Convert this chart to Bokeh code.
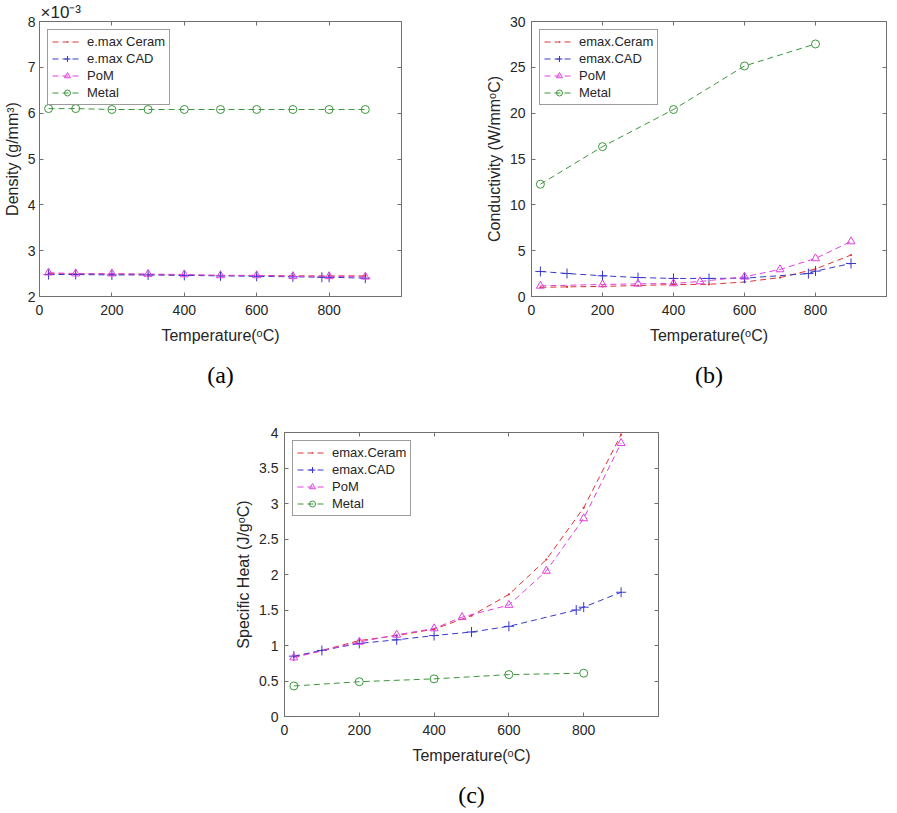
from bokeh.plotting import figure
from bokeh.layouts import column, row
from bokeh.models import (Spacer, LinearAxis, FixedTicker, Title, Range1d,
                          NumeralTickFormatter)
from bokeh.embed import file_html
from bokeh.resources import INLINE

# ---------------- data ----------------
# (a) Density, in units of 1e-3 g/mm^3
a_x_ceram = [25, 100, 200, 300, 400, 500, 600, 700, 800, 900]
a_ceram = [2.50, 2.49, 2.49, 2.48, 2.47, 2.46, 2.46, 2.45, 2.45, 2.45]
a_x_cad = [25, 100, 200, 300, 400, 500, 600, 700, 780, 800, 900]
a_cad = [2.48, 2.48, 2.47, 2.47, 2.46, 2.45, 2.44, 2.43, 2.42, 2.42, 2.40]
a_x_pom = [25, 100, 200, 300, 400, 500, 600, 700, 800, 900]
a_pom = [2.52, 2.50, 2.50, 2.49, 2.48, 2.46, 2.46, 2.44, 2.44, 2.43]
a_x_metal = [25, 100, 200, 300, 400, 500, 600, 700, 800, 900]
a_metal = [6.10, 6.10, 6.08, 6.08, 6.08, 6.08, 6.08, 6.08, 6.08, 6.08]

# (b) Conductivity
b_x_ceram = [25, 100, 200, 300, 400, 500, 600, 700, 800, 900]
b_ceram = [1.0, 1.05, 1.1, 1.2, 1.3, 1.33, 1.58, 2.07, 3.0, 4.52]
b_x_cad = [25, 100, 200, 300, 400, 500, 600, 780, 800, 900]
b_cad = [2.73, 2.51, 2.26, 2.07, 1.97, 1.97, 2.0, 2.5, 2.77, 3.6]
b_x_pom = [25, 200, 300, 400, 475, 600, 700, 800, 900]
b_pom = [1.16, 1.31, 1.38, 1.42, 1.64, 2.15, 2.95, 4.15, 6.0]
b_x_metal = [25, 200, 400, 600, 800]
b_metal = [12.25, 16.35, 20.4, 25.15, 27.55]

# (c) Specific heat
c_x_ceram = [25, 100, 200, 300, 400, 500, 600, 700, 800, 900]
c_ceram = [0.84, 0.93, 1.07, 1.14, 1.23, 1.42, 1.72, 2.21, 2.94, 3.97]
c_x_cad = [25, 100, 200, 300, 400, 500, 600, 780, 800, 900]
c_cad = [0.85, 0.93, 1.03, 1.08, 1.14, 1.19, 1.27, 1.50, 1.54, 1.75]
c_x_pom = [25, 200, 300, 400, 475, 600, 700, 800, 900]
c_pom = [0.83, 1.05, 1.15, 1.24, 1.40, 1.57, 2.05, 2.79, 3.85]
c_x_metal = [25, 200, 400, 600, 800]
c_metal = [0.43, 0.49, 0.53, 0.59, 0.61]

x_ticks = [0, 200, 400, 600, 800]
a_y_ticks = [2, 3, 4, 5, 6, 7, 8]
b_y_ticks = [0, 5, 10, 15, 20, 25, 30]
c_y_ticks = [0, 0.5, 1, 1.5, 2, 2.5, 3, 3.5, 4]

labels_a = ["e.max Ceram", "e.max CAD", "PoM", "Metal"]
labels_bc = ["emax.Ceram", "emax.CAD", "PoM", "Metal"]

# ---------------- styles ----------------
FONT = "Liberation Sans"
SERIF = "Liberation Serif"
TXT = "#262626"
FRAME = "#707070"
COL_CERAM = "#e03434"
COL_CAD = "#3838cc"
COL_POM = "#e040e0"
COL_METAL = "#3c963c"
DASH = "6 4"


def style_axis(ax, ticks, show_labels=True, standoff=8):
    ax.ticker = FixedTicker(ticks=ticks)
    ax.major_tick_in = 4
    ax.major_tick_out = 0
    ax.minor_tick_line_color = None
    ax.axis_line_color = FRAME
    ax.major_tick_line_color = FRAME
    ax.major_label_text_font = FONT
    if show_labels:
        ax.major_label_text_color = TXT
        ax.major_label_text_font_size = "14px"
        ax.major_label_standoff = standoff
    else:
        ax.major_label_text_color = None
        ax.major_label_text_font_size = "0px"
        ax.major_label_standoff = 0


def panel(tag, ylabel, yrange, yticks, series, labels, fw, fh, borders, ystand, yfmt=None):
    bl, br, bt, bb = borders
    p = figure(frame_width=fw, frame_height=fh, x_range=Range1d(0, 1000),
               y_range=Range1d(*yrange), output_backend="svg",
               toolbar_location=None, min_border_left=bl, min_border_right=br,
               min_border_top=bt, min_border_bottom=bb,
               background_fill_color="white", border_fill_color="white")
    p.grid.visible = False
    p.outline_line_color = FRAME
    p.outline_line_width = 1

    style_axis(p.xaxis[0], x_ticks, standoff=8)
    style_axis(p.yaxis[0], yticks, standoff=ystand)
    if yfmt is not None:
        p.yaxis[0].formatter = yfmt
    p.xaxis.axis_label = "Temperature(\u1d52C)"
    p.yaxis.axis_label = ylabel
    for ax in (p.xaxis[0], p.yaxis[0]):
        ax.axis_label_text_font = FONT
        ax.axis_label_text_font_size = "16px"
        ax.axis_label_text_font_style = "normal"
        ax.axis_label_text_color = TXT
    p.xaxis[0].axis_label_standoff = 9
    p.yaxis[0].axis_label_standoff = 4

    top = LinearAxis()
    style_axis(top, x_ticks, show_labels=False)
    p.add_layout(top, "above")
    right = LinearAxis()
    style_axis(right, yticks, show_labels=False)
    p.add_layout(right, "right")

    colors = [COL_CERAM, COL_CAD, COL_POM, COL_METAL]
    markers = ["dot", "cross", "triangle", "circle"]
    sizes = [9, 10, 8, 8]
    for (xs, ys), lab, c, m, s in zip(series, labels, colors, markers, sizes):
        p.line(xs, ys, line_color=c, line_width=1, line_dash=DASH, legend_label=lab)
        p.scatter(xs, ys, marker=m, size=s, line_color=c, fill_color=c if m == "dot" else None,
                  line_width=1, legend_label=lab)

    lg = p.legend[0]
    lg.location = "top_left"
    lg.margin = 8
    lg.padding = 4
    lg.spacing = 2
    lg.label_height = 15
    lg.glyph_height = 15
    lg.glyph_width = 30
    lg.label_standoff = 5
    lg.label_text_font = FONT
    lg.label_text_font_size = "13px"
    lg.label_text_color = TXT
    lg.border_line_color = "#3a3a3a"
    lg.border_line_width = 1
    lg.background_fill_alpha = 1

    t = Title(text=tag, align="center", text_font=SERIF, text_font_size="24px",
              text_font_style="normal", text_color="black", standoff=27)
    p.add_layout(t, "below")
    return p


pa = panel("(a)", "Density (g/mm\u00b3)", (2, 8), a_y_ticks,
           [(a_x_ceram, a_ceram), (a_x_cad, a_cad), (a_x_pom, a_pom), (a_x_metal, a_metal)],
           labels_a, 362, 275, (32, 44, 20, 100), 4)
pa.add_layout(Title(text="\u00d710\u207b\u00b3", align="left", text_font=FONT,
                    text_font_size="17px", text_font_style="normal", text_color=TXT,
                    text_line_height=1.0, standoff=0, offset=1), "above")

pb = panel("(b)", "Conductivity (W/mm\u1d52C)", (0, 30), b_y_ticks,
           [(b_x_ceram, b_ceram), (b_x_cad, b_cad), (b_x_pom, b_pom), (b_x_metal, b_metal)],
           labels_bc, 355, 275, (86, 2, 20, 100), 6)

pc = panel("(c)", "Specific Heat (J/g\u1d52C)", (0, 4), c_y_ticks,
           [(c_x_ceram, c_ceram), (c_x_cad, c_cad), (c_x_pom, c_pom), (c_x_metal, c_metal)],
           labels_bc, 374, 284, (45, 40, 31, 88), 6, yfmt=NumeralTickFormatter(format="0.[0]"))

layout = column(row(pa, pb), row(Spacer(width=232, height=10), pc))

open("out.html", "w").write(file_html(layout, INLINE))
